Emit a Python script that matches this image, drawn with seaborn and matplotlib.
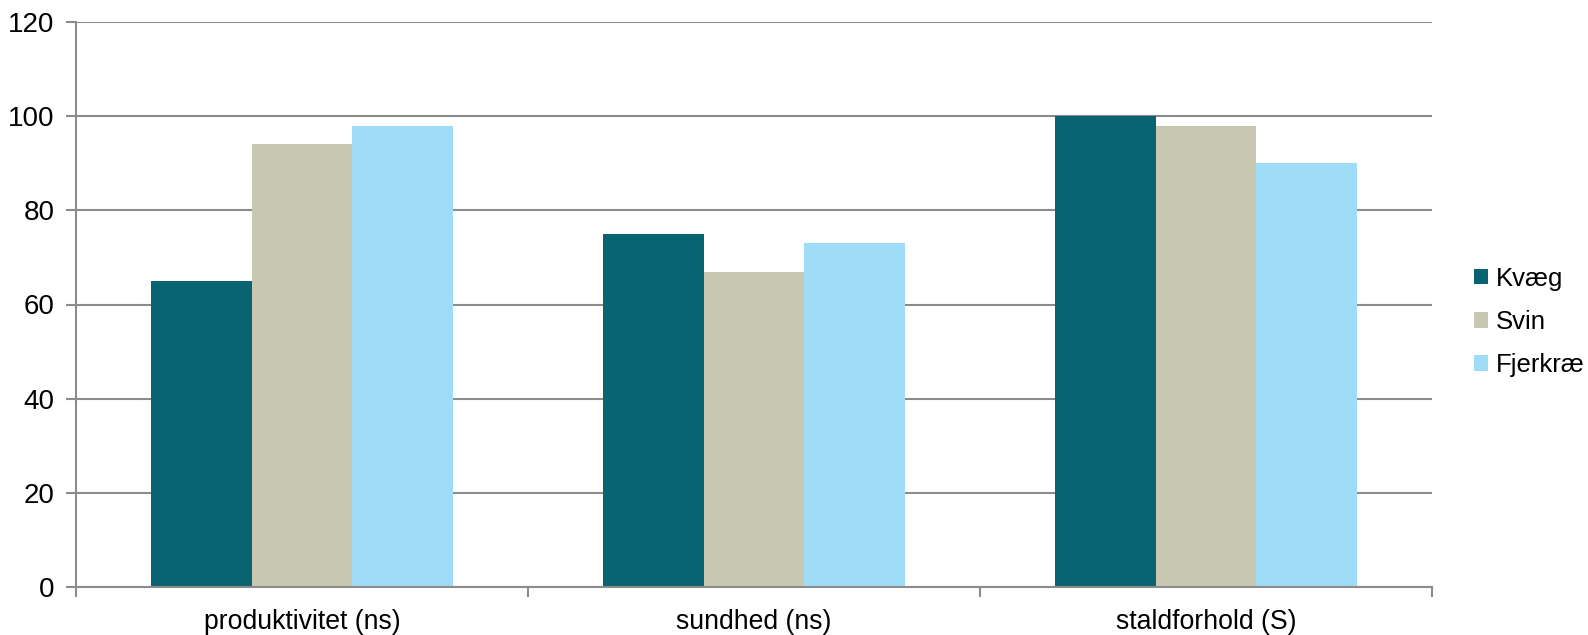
import pandas as pd
import matplotlib
matplotlib.use("Agg")
import matplotlib.pyplot as plt
import seaborn as sns

# data
kategorier = ["produktivitet (ns)", "sundhed (ns)", "staldforhold (S)"]
arter = ["Kvæg", "Svin", "Fjerkræ"]
kvaeg = [65, 75, 100]
svin = [94, 67, 98]
fjerkrae = [98, 73, 90]
y_ticks = [0, 20, 40, 60, 80, 100, 120]

farver = ["#086470", "#C8C7B2", "#9EDCF7"]
grid_col = "#8c8c8c"

df = pd.DataFrame({
    "kategori": kategorier * 3,
    "art": [a for a in arter for _ in kategorier],
    "vaerdi": kvaeg + svin + fjerkrae,
})

sns.set_style("white")
plt.rcParams["font.family"] = ["Liberation Sans", "DejaVu Sans"]
plt.rcParams["text.color"] = "black"
plt.rcParams["xtick.labelcolor"] = "black"
plt.rcParams["ytick.labelcolor"] = "black"

fig = plt.figure(figsize=(15.88, 6.35), dpi=100)
ax = fig.add_axes([76 / 1588, 1 - 587 / 635, (1432 - 76) / 1588, (587 - 22) / 635])

sns.barplot(data=df, x="kategori", y="vaerdi", hue="art", order=kategorier,
            hue_order=arter, palette=farver, width=0.667, linewidth=0,
            saturation=1, ax=ax, legend=True)

ax.set_ylim(0, 120)
ax.set_xlim(-0.5, 2.5)
ax.set_yticks(y_ticks)
ax.set_yticklabels([str(t) for t in y_ticks], fontsize=20)
ax.yaxis.grid(True, color=grid_col, linewidth=1.5)
ax.set_axisbelow(True)

# ticks on category borders, labels at the centres
ax.set_xticks([-0.5, 0.5, 1.5, 2.5])
ax.set_xticklabels([])
ax.set_xticks([0, 1, 2], minor=True)
ax.set_xticklabels(kategorier, minor=True, fontsize=19.2)
ax.tick_params(axis="x", which="major", length=7, width=1.5, color=grid_col, direction="out", bottom=True)
ax.tick_params(axis="x", which="minor", length=0, pad=16)
ax.tick_params(axis="y", length=7, width=1.5, color=grid_col, direction="out", left=True, pad=8.5)

for s in ["top", "right"]:
    ax.spines[s].set_visible(False)
for s in ["left", "bottom"]:
    ax.spines[s].set_color(grid_col)
    ax.spines[s].set_linewidth(1.5)

ax.set_xlabel("")
ax.set_ylabel("")

handles, labels = ax.get_legend_handles_labels()
ax.legend(handles, labels, loc="center left", bbox_to_anchor=(1474 / 1588, 1 - 322 / 635),
          bbox_transform=fig.transFigure, frameon=False, fontsize=18.5,
          borderaxespad=0, borderpad=0,
          handlelength=0.55, handleheight=0.55, handletextpad=0.3, labelspacing=0.75)

fig.savefig("out.png", dpi=100)
